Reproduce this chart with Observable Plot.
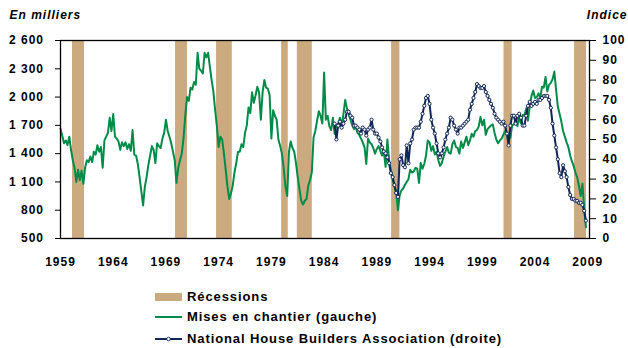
<!DOCTYPE html>
<html>
<head>
<meta charset="utf-8">
<script src="https://cdn.jsdelivr.net/npm/d3@7"></script>
<script src="https://cdn.jsdelivr.net/npm/@observablehq/plot@0.6"></script>
<style>
  body { margin: 0; background: #fff; }
  #chart { position: relative; width: 628px; height: 348px; font-family: "Liberation Sans", Arial, sans-serif; }
  .legend { position: absolute; left: 155px; top: 0; font-weight: bold; font-size: 13px; letter-spacing: 0.9px; color: #000; }
  .row { position: absolute; left: 0; display: flex; align-items: center; height: 16px; line-height: 16px; white-space: nowrap; }
  .sw { width: 27px; margin-right: 5px; flex: none; }
</style>
</head>
<body>
<div id="chart"></div>
<script>
// Housing starts, thousands of units (SAAR), six readings per year from 1959
const startYear = 1959;
const housingStarts = [
  1665, 1590, 1510, 1540, 1490, 1580, // 1959
  1440, 1330, 1250, 1100, 1230, 1120, // 1960
  1220, 1080, 1250, 1330, 1310, 1370, // 1961
  1310, 1420, 1390, 1490, 1420, 1470, // 1962
  1250, 1540, 1580, 1620, 1780, 1640, // 1963
  1820, 1580, 1560, 1530, 1440, 1520, // 1964
  1480, 1520, 1450, 1500, 1430, 1650, // 1965
  1390, 1380, 1290, 1150, 1000, 850,  // 1966
  1050, 1150, 1280, 1380, 1480, 1440, // 1967
  1300, 1510, 1480, 1460, 1560, 1620, // 1968
  1760, 1640, 1580, 1510, 1420, 1330, // 1969
  1090, 1250, 1330, 1400, 1560, 1800, // 1970
  2000, 1960, 2100, 2080, 2160, 2130, // 1971
  2470, 2300, 2280, 2250, 2470, 2420, // 1972
  2470, 2320, 2180, 2060, 1860, 1690, // 1973
  1470, 1580, 1550, 1400, 1230, 1050, // 1974
  920, 980, 1060, 1200, 1300, 1420,   // 1975
  1420, 1500, 1470, 1620, 1700, 1890, // 1976
  1830, 2050, 1940, 2020, 2110, 2050, // 1977
  1760, 2050, 2180, 2100, 2090, 2020, // 1978
  1560, 1860, 1800, 1760, 1550, 1480, // 1979
  1400, 1250, 1050, 950, 1420, 1530,  // 1980
  1460, 1420, 1300, 1150, 1020, 900,  // 1981
  860, 900, 920, 1060, 1120, 1200,    // 1982
  1570, 1640, 1750, 1850, 1800, 1720, // 1983
  2260, 1760, 1800, 1690, 1650, 1780, // 1984
  1610, 1700, 1720, 1780, 1700, 1820, // 1985
  1970, 1880, 1820, 1760, 1700, 1660, // 1986
  1680, 1620, 1600, 1560, 1520, 1470, // 1987
  1290, 1560, 1520, 1500, 1460, 1400, // 1988
  1450, 1480, 1430, 1380, 1420, 1260, // 1989
  1550, 1330, 1230, 1130, 1050, 1000, // 1990
  800, 960, 1010, 1030, 1070, 1100,   // 1991
  1130, 1230, 1200, 1210, 1250, 1240, // 1992
  1090, 1300, 1240, 1290, 1380, 1540, // 1993
  1520, 1430, 1480, 1390, 1420, 1330, // 1994
  1270, 1300, 1370, 1420, 1470, 1410, // 1995
  1400, 1500, 1540, 1470, 1460, 1400, // 1996
  1530, 1460, 1520, 1580, 1490, 1540, // 1997
  1610, 1580, 1640, 1650, 1690, 1790, // 1998
  1700, 1760, 1600, 1660, 1680, 1700, // 1999
  1710, 1620, 1550, 1510, 1540, 1560, // 2000
  1600, 1640, 1620, 1600, 1570, 1700, // 2001
  1710, 1760, 1690, 1790, 1720, 1810, // 2002
  1800, 1880, 1750, 1900, 2010, 2070, // 2003
  1990, 2000, 2040, 1990, 2110, 2100, // 2004
  2214, 2060, 2130, 2150, 2190, 2270, // 2005
  2080, 1900, 1820, 1740, 1640, 1580, // 2006
  1520, 1470, 1380, 1320, 1270, 1200, // 2007
  1150, 1060, 950, 1080, 820, 620     // 2008
];

// NAHB housing market index (0-100), six readings per year from 1985
const nahbStart = 1985;
const nahbIndex = [
  58, 50, 57, 59, 56, 58, // 1985
  60, 64, 64, 62, 61, 57, // 1986
  57, 56, 55, 53, 56, 55, // 1987
  52, 55, 56, 60, 55, 53, // 1988
  53, 51, 49, 46, 44, 43, // 1989
  41, 38, 33, 31, 27, 23, // 1990
  21, 40, 42, 37, 36, 47, // 1991
  38, 48, 50, 55, 56, 56, // 1992
  56, 59, 63, 67, 71, 72, // 1993
  68, 60, 56, 53, 48, 43, // 1994
  41, 43, 46, 50, 53, 56, // 1995
  61, 60, 57, 55, 53, 56, // 1996
  56, 57, 58, 59, 60, 65, // 1997
  68, 71, 74, 78, 77, 76, // 1998
  76, 77, 74, 72, 70, 68, // 1999
  66, 63, 61, 60, 59, 58, // 2000
  59, 57, 53, 47, 57, 62, // 2001
  62, 58, 62, 63, 61, 57, // 2002
  57, 62, 67, 69, 67, 68, // 2003
  69, 68, 70, 70, 71, 72, // 2004
  72, 72, 70, 66, 58, 52, // 2005
  46, 40, 33, 31, 37, 34, // 2006
  31, 26, 22, 20, 20, 19, // 2007
  19, 18, 18, 17, 14, 9   // 2008
];

// Recession periods (fractional years)
const recessionStart = [1960.14, 1969.91, 1973.8, 1979.97, 1981.46, 1990.4, 2001.06, 2007.75];
const recessionEnd   = [1961.28, 1971.05, 1975.29, 1980.6, 1982.88, 1991.19, 2001.84, 2008.89];

const leftTicks = [500, 800, 1100, 1400, 1700, 2000, 2300, 2600];
const rightTicks = [0, 10, 20, 30, 40, 50, 60, 70, 80, 90, 100];
const yearTicks = [1959, 1964, 1969, 1974, 1979, 1984, 1989, 1994, 1999, 2004, 2009];

const green = "#008c48";
const navy = "#112657";
const tan = "#ccaa80";

// The index axis shares the left scale: 0 -> 500, 100 -> 2600
const toLeft = v => 500 + v * 21;
const fromLeft = y => String(Math.round((y - 500) / 21));

const starts = housingStarts.map((v, i) => ({t: startYear + i / 6, v}));
const nahb = nahbIndex.map((v, i) => ({t: nahbStart + i / 6, v: toLeft(v)}));
const recessions = recessionStart.map((s, i) => ({s, e: recessionEnd[i]}));

const spaced = d => String(d).replace(/\B(?=(\d{3})+(?!\d))/g, " ");

const chart = Plot.plot({
  width: 628,
  height: 274,
  marginLeft: 60,
  marginRight: 39,
  marginTop: 40,
  marginBottom: 36,
  style: {
    fontFamily: "'Liberation Sans', Arial, sans-serif",
    fontSize: "12px",
    fontWeight: "bold",
    letterSpacing: "1px",
    color: "#000",
    background: "#fff",
    overflow: "visible"
  },
  x: {domain: [1959, 2009.17]},
  y: {domain: [500, 2600]},
  marks: [
    Plot.rect(recessions, {x1: "s", x2: "e", fill: tan}),
    Plot.line(starts, {x: "t", y: "v", stroke: green, strokeWidth: 2}),
    Plot.line(nahb, {x: "t", y: "v", stroke: navy, strokeWidth: 2}),
    Plot.dot(nahb, {x: "t", y: "v", r: 1.6, fill: "#fff", stroke: navy, strokeWidth: 1}),
    Plot.frame({stroke: "#000", strokeWidth: 1.3}),
    Plot.axisY({anchor: "left", ticks: leftTicks, tickFormat: spaced, tickSize: 5, tickPadding: 11.5, label: null}),
    Plot.axisY({anchor: "right", ticks: rightTicks.map(toLeft), tickFormat: fromLeft, tickSize: 6, tickPadding: 7, label: null}),
    Plot.axisX({anchor: "bottom", ticks: yearTicks, tickFormat: "d", tickSize: 0, tickPadding: 19, label: null}),
    Plot.text(["En milliers"], {text: d => d, frameAnchor: "top-left", dx: -51, dy: -22, textAnchor: "start", lineAnchor: "bottom", fontStyle: "italic"}),
    Plot.text(["Indice"], {text: d => d, frameAnchor: "top-right", dx: 38, dy: -22, textAnchor: "end", lineAnchor: "bottom", fontStyle: "italic"})
  ]
});

const root = document.getElementById("chart");
root.appendChild(chart);

// Legend below the chart
const legend = document.createElement("div");
legend.className = "legend";
legend.innerHTML = `
  <div class="row" style="top:288.5px"><div class="sw" style="height:8px;background:${tan}"></div>Récessions</div>
  <div class="row" style="top:308.5px"><div class="sw" style="height:2px;background:${green}"></div>Mises en chantier (gauche)</div>
  <div class="row" style="top:330.5px"><svg class="sw" width="27" height="8" viewBox="0 0 27 8"><line x1="0" y1="4" x2="27" y2="4" stroke="${navy}" stroke-width="2"/><circle cx="13.5" cy="4" r="1.8" fill="#fff" stroke="${navy}" stroke-width="0.9"/></svg>National House Builders Association (droite)</div>
`;
root.appendChild(legend);
</script>
</body>
</html>
